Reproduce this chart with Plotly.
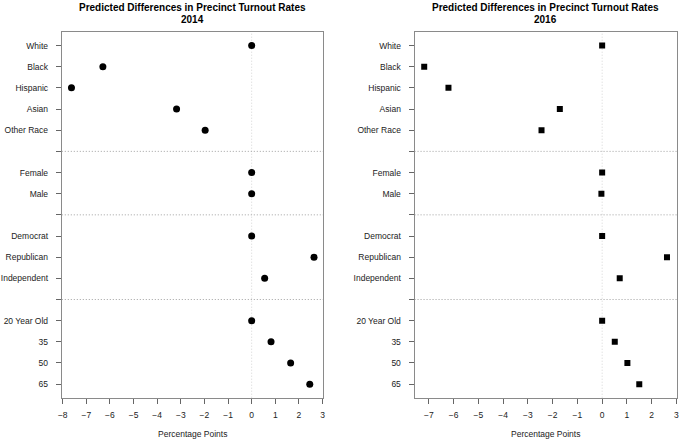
import plotly.graph_objects as go

# Row labels (None = separator row)
row_labels = ["White", "Black", "Hispanic", "Asian", "Other Race", None,
              "Female", "Male", None,
              "Democrat", "Republican", "Independent", None,
              "20 Year Old", "35", "50", "65"]

categories = ["White", "Black", "Hispanic", "Asian", "Other Race",
              "Female", "Male",
              "Democrat", "Republican", "Independent",
              "20 Year Old", "35", "50", "65"]

values_2014 = [0.0, -6.30, -7.63, -3.18, -1.97,
               0.0, 0.0,
               0.0, 2.64, 0.55,
               0.0, 0.82, 1.65, 2.46]

values_2016 = [0.0, -7.19, -6.21, -1.71, -2.45,
               0.0, -0.03,
               0.0, 2.62, 0.71,
               0.0, 0.51, 1.02, 1.50]

xticks_2014 = [-8, -7, -6, -5, -4, -3, -2, -1, 0, 1, 2, 3]
xticks_2016 = [-7, -6, -5, -4, -3, -2, -1, 0, 1, 2, 3]

titles = ["2014", "2016"]
main_title = "Predicted Differences in Precinct Turnout Rates"

W, H = 683, 441
FONT = "Liberation Sans, Arial, Helvetica, sans-serif"

positions = list(range(1, len(row_labels) + 1))
cat_pos = [positions[i] for i, lab in enumerate(row_labels) if lab is not None]
sep_pos = [positions[i] for i, lab in enumerate(row_labels) if lab is None]
ticktext = [lab if lab is not None else "" for lab in row_labels]

fig = go.Figure()
fig.add_trace(go.Scatter(x=values_2014, y=cat_pos, mode="markers",
                         marker=dict(symbol="circle", size=7, color="black"),
                         xaxis="x", yaxis="y", showlegend=False,
                         text=categories))
fig.add_trace(go.Scatter(x=values_2016, y=cat_pos, mode="markers",
                         marker=dict(symbol="square", size=6, color="black"),
                         xaxis="x2", yaxis="y2", showlegend=False,
                         text=categories))

top_px, bot_px = 32, 397.7
ydom = [1 - bot_px / H, 1 - top_px / H]
xdom1 = [58.3 / W, 322.3 / W]
xdom2 = [414.2 / W, 678.6 / W]

common_x = dict(showgrid=False, zeroline=False, showline=True, mirror=True,
                linecolor="#8a8a8a", linewidth=1, ticks="outside", ticklen=5,
                tickcolor="#666", tickfont=dict(family=FONT, size=8.5, color="#222"),
                ticklabelstandoff=4)
common_y = dict(showgrid=False, zeroline=False, showline=True, mirror=True,
                linecolor="#8a8a8a", linewidth=1, ticks="outside", ticklen=5,
                tickcolor="#666", tickfont=dict(family=FONT, size=8.5, color="#222"),
                tickvals=positions, ticktext=ticktext,
                range=[len(row_labels) + 0.64, 0.36], ticklabelstandoff=6)

fig.update_layout(
    width=W, height=H, margin=dict(l=0, r=0, t=0, b=0),
    plot_bgcolor="white", paper_bgcolor="white",
    xaxis=dict(domain=xdom1, range=[-8.04, 3.04], tickvals=xticks_2014,
               anchor="y", **common_x),
    yaxis=dict(domain=ydom, anchor="x", **common_y),
    xaxis2=dict(domain=xdom2, range=[-7.58, 3.01], tickvals=xticks_2016,
                anchor="y2", **common_x),
    yaxis2=dict(domain=ydom, anchor="x2", **common_y),
)

shapes = []
for xr, yr in [("x", "y"), ("x2", "y2")]:
    shapes.append(dict(type="line", xref=xr, yref=yr + " domain", x0=0, x1=0, y0=0, y1=1,
                       line=dict(color="#d4d4d4", width=1, dash="1px,2px"), layer="below"))
    for s in sep_pos:
        shapes.append(dict(type="line", xref=xr + " domain", yref=yr, x0=0, x1=1, y0=s, y1=s,
                           line=dict(color="#a0a0a0", width=1, dash="1px,2px"), layer="below"))
fig.update_layout(shapes=shapes)

annotations = []
for dom, yr in [(xdom1, titles[0]), (xdom2, titles[1])]:
    cx = (dom[0] + dom[1]) / 2
    annotations.append(dict(text="<b>" + main_title + "</b>", x=cx, y=1 - 7.5 / H,
                            xref="paper", yref="paper", xanchor="center", yanchor="middle",
                            showarrow=False, font=dict(family=FONT, size=10, color="black")))
    annotations.append(dict(text="<b>" + yr + "</b>", x=cx, y=1 - 19.5 / H,
                            xref="paper", yref="paper", xanchor="center", yanchor="middle",
                            showarrow=False, font=dict(family=FONT, size=10, color="black")))
    annotations.append(dict(text="Percentage Points", x=cx, y=1 - 434 / H,
                            xref="paper", yref="paper", xanchor="center", yanchor="middle",
                            showarrow=False, font=dict(family=FONT, size=8.5, color="#222")))
fig.update_layout(annotations=annotations)

fig.write_html("out.html", config={"displayModeBar": False},
               post_script="document.body.style.margin='0';document.body.style.overflow='hidden';")
